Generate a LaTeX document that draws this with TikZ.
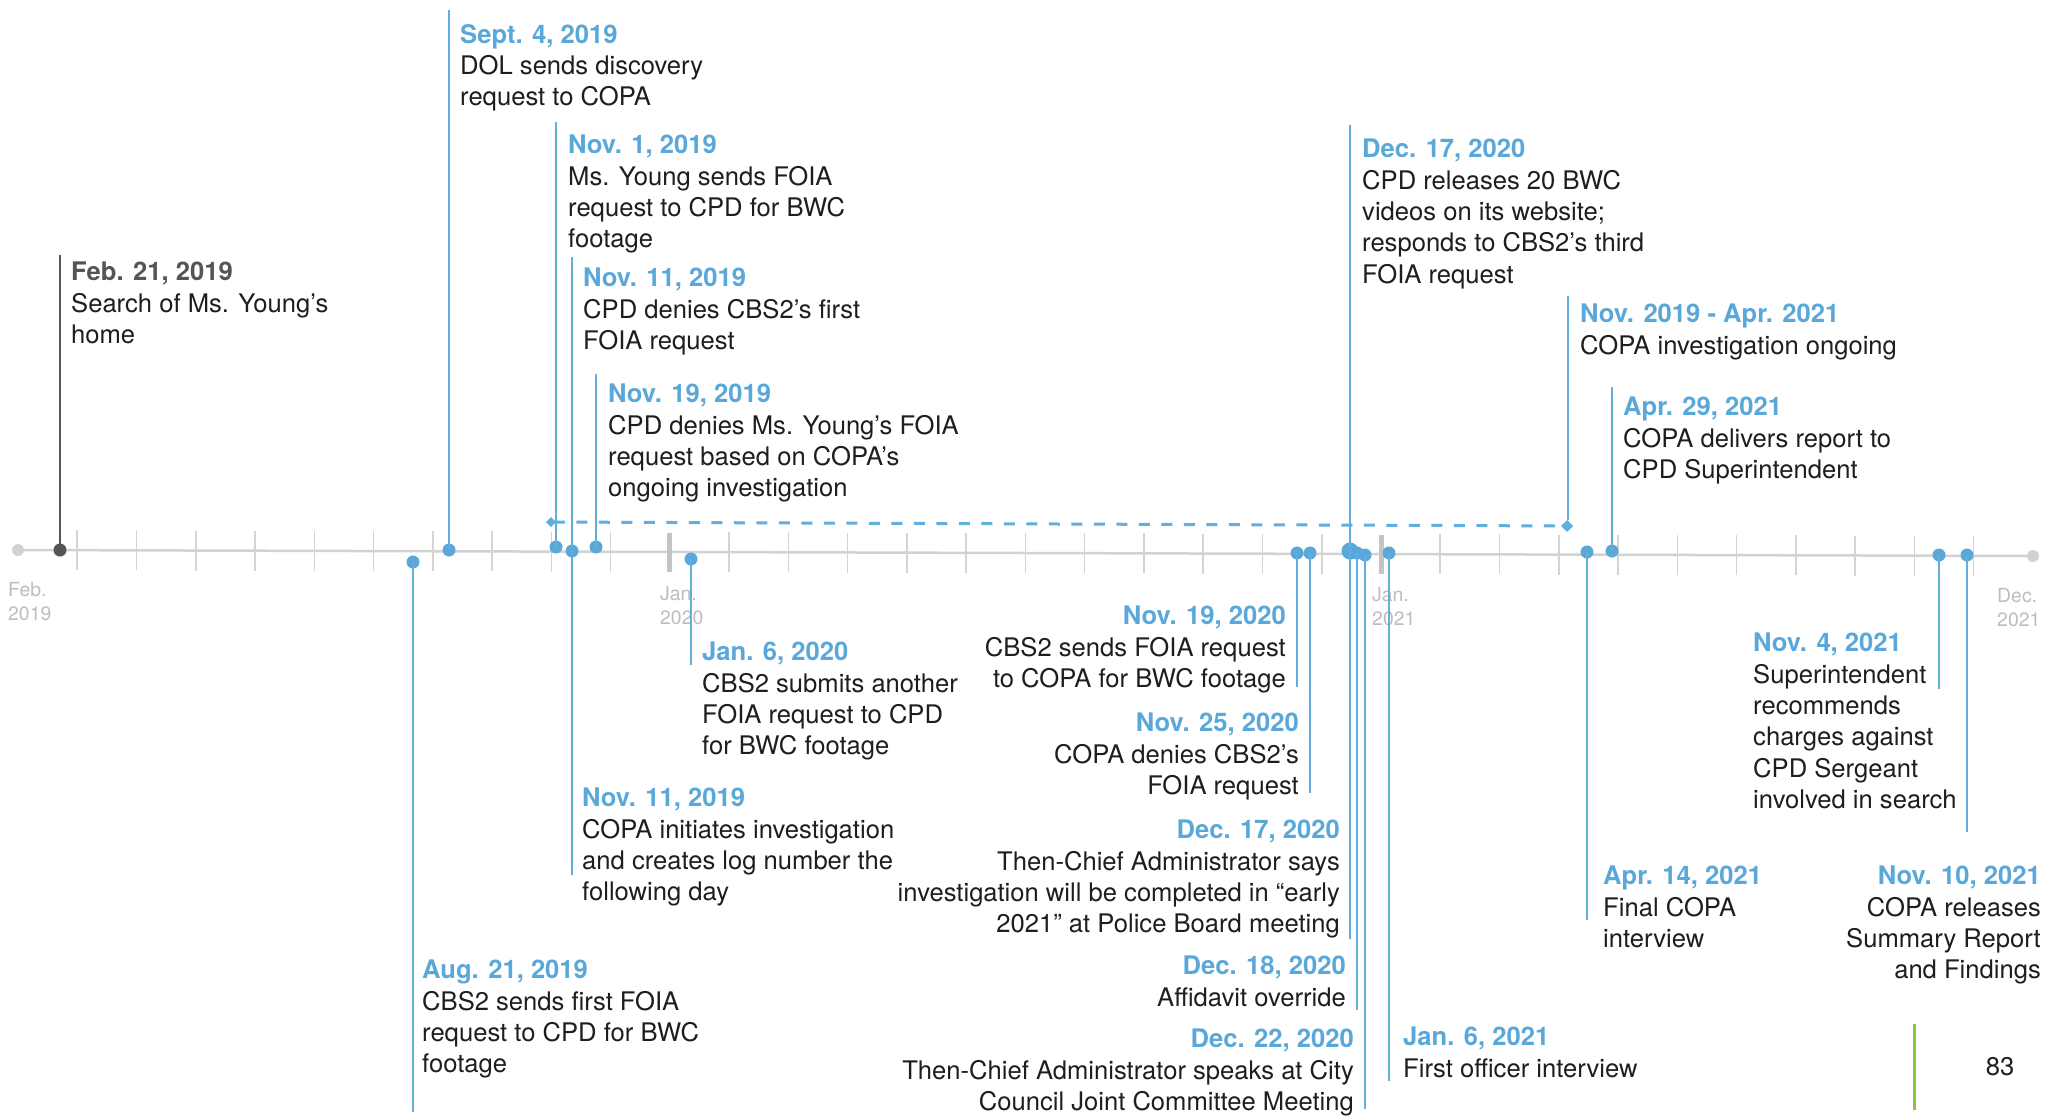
\documentclass[tikz,border=0pt]{standalone}
\usepackage{fontspec}
\setmainfont{TeX Gyre Heros}
\usetikzlibrary{arrows.meta}
\definecolor{evblue}{HTML}{5AA8DA}
\definecolor{lineblue}{HTML}{62AEDD}
\definecolor{darkev}{HTML}{555555}
\definecolor{axisgray}{HTML}{D2D2D2}
\definecolor{tickgray}{HTML}{D4D4D4}
\definecolor{thickgray}{HTML}{C4C4C4}
\definecolor{labgray}{HTML}{BDBDBD}
\definecolor{bodytxt}{HTML}{1E1E1E}
\definecolor{pagegreen}{HTML}{8CC63F}
\newcommand{\dt}[1]{{\bfseries\color{evblue}#1}}
\newcommand{\dtg}[1]{{\bfseries\color{darkev}#1}}
\begin{document}
\begin{tikzpicture}[x=1pt,y=-1pt,
  evl/.style={font=\fontsize{25.6}{31.3}\selectfont, inner sep=0pt, text=bodytxt, align=left, anchor=north west},
  evr/.style={font=\fontsize{25.6}{31.3}\selectfont, inner sep=0pt, text=bodytxt, align=right, anchor=north east},
  axl/.style={font=\fontsize{19.4}{24.5}\selectfont, inner sep=0pt, text=labgray, align=left, anchor=north west},
  dot/.style={circle, fill=evblue, minimum size=13pt, inner sep=0pt},
  bigdot/.style={circle, fill=evblue, minimum size=17pt, inner sep=0pt},
  enddot/.style={circle, fill=axisgray, minimum size=12pt, inner sep=0pt},
  lead/.style={draw=lineblue, line width=1.6pt},
  leadg/.style={draw=darkev, line width=1.6pt},
  axisline/.style={draw=axisgray, line width=2.5pt},
  thintick/.style={draw=tickgray, line width=1.6pt},
  thicktick/.style={draw=thickgray, line width=5pt},
  dashline/.style={draw=lineblue, line width=3pt, dash pattern=on 11pt off 11.5pt}
]
\fill[white] (0,0) rectangle (2049,1119);
\useasboundingbox (0,0) rectangle (2049,1119);

% axis
\coordinate (ax0) at (18,550);
\coordinate (ax1) at (2033,556);
\draw[axisline] (ax0) -- (ax1);
\foreach \m in {1,...,33}{
  \pgfmathsetmacro{\tx}{18+59.26*\m}
  \pgfmathsetmacro{\ty}{550+0.003*59.26*\m}
  \ifnum\m=11\relax
    \draw[thicktick] (\tx,\ty-19) -- (\tx,\ty+20);
  \else\ifnum\m=23\relax
    \draw[thicktick] (\tx,\ty-19) -- (\tx,\ty+20);
  \else
    \draw[thintick] (\tx,\ty-20) -- (\tx,\ty+20);
  \fi\fi
}
\node[enddot] (e0) at (ax0) {};
\node[enddot] (e1) at (ax1) {};

% axis labels
\node[axl] (lFeb) at (8,582) {Feb.\\2019};
\node[axl] (lJanA) at (660,586) {Jan.\\2020};
\node[axl] (lJanB) at (1372,587) {Jan.\\2021};
\node[axl] (lDec) at (1997,588) {Dec.\\2021};

% dashed investigation span
\coordinate (dl) at (546,522);
\coordinate (dr) at (1573,526);
\draw[dashline, {Diamond[length=10pt,width=10pt]}-{Diamond[length=12pt,width=12pt]}] (dl) -- (dr);

% dots
\node[dot, fill=darkev] (dA) at (60,550) {};
\node[dot] (dI) at (413,562) {};
\node[dot] (dB) at (449,550) {};
\node[dot] (dC) at (556,547) {};
\node[dot] (dD) at (572,551) {};
\node[dot] (dE) at (596,547) {};
\node[dot] (dJ) at (691,559) {};
\node[dot] (dL) at (1297,553) {};
\node[dot] (dM) at (1310,553) {};
\node[bigdot] (dF) at (1350,551) {};
\node[dot] (dO) at (1357,553) {};
\node[dot] (dP) at (1365,555) {};
\node[dot] (dQ) at (1389,553) {};
\node[dot] (dR) at (1587,552) {};
\node[dot] (dH) at (1612,551) {};
\node[dot] (dS) at (1939,555) {};
\node[dot] (dT) at (1967,555) {};

% line ends
\coordinate (tA) at (60,255);
\coordinate (tB) at (449,10);
\coordinate (tC) at (556,122);
\coordinate (tD) at (572,257);
\coordinate (bK) at (572,875);
\coordinate (tE) at (596,374);
\coordinate (bI) at (413,1112);
\coordinate (bJ) at (691,665);
\coordinate (bL) at (1297,687);
\coordinate (bM) at (1310,793);
\coordinate (tF) at (1350,125);
\coordinate (bN) at (1350,939);
\coordinate (bO) at (1357,1010);
\coordinate (bP) at (1365,1109);
\coordinate (bQ) at (1389,1081);
\coordinate (tG) at (1568,296);
\coordinate (gG) at (1568,520);
\coordinate (bR) at (1587,920);
\coordinate (tH) at (1612,387);
\coordinate (bS) at (1939,689);
\coordinate (bT) at (1967,832);

% leader lines
\draw[leadg] (tA) -- (dA.center);
\draw[lead] (tB) -- (dB.center);
\draw[lead] (tC) -- (dC.center);
\draw[lead] (tD) -- (dD.center);
\draw[lead] (dD.center) -- (bK);
\draw[lead] (tE) -- (dE.center);
\draw[lead] (dI.center) -- (bI);
\draw[lead] (dJ.center) -- (bJ);
\draw[lead] (dL.center) -- (bL);
\draw[lead] (dM.center) -- (bM);
\draw[lead] (tF) -- (dF.center);
\draw[lead] (dF.center) -- (bN);
\draw[lead] (dO.center) -- (bO);
\draw[lead] (dP.center) -- (bP);
\draw[lead] (dQ.center) -- (bQ);
\draw[lead] (tG) -- (gG);
\draw[lead] (dR.center) -- (bR);
\draw[lead] (tH) -- (dH.center);
\draw[lead] (dS.center) -- (bS);
\draw[lead] (dT.center) -- (bT);

% texts above
\node[evl] (xA) at (71,262) {\dtg{Feb. 21, 2019}\\Search of Ms. Young’s\\home};
\node[evl] (xB) at (460,24) {\dt{Sept. 4, 2019}\\DOL sends discovery\\request to COPA};
\node[evl] (xC) at (568,135) {\dt{Nov. 1, 2019}\\Ms. Young sends FOIA\\request to CPD for BWC\\footage};
\node[evl] (xD) at (583,268) {\dt{Nov. 11, 2019}\\CPD denies CBS2’s first\\FOIA request};
\node[evl] (xE) at (608,384) {\dt{Nov. 19, 2019}\\CPD denies Ms. Young’s FOIA\\request based on COPA’s\\ongoing investigation};
\node[evl] (xF) at (1362,139) {\dt{Dec. 17, 2020}\\CPD releases 20 BWC\\videos on its website;\\responds to CBS2’s third\\FOIA request};
\node[evl] (xG) at (1580,304) {\dt{Nov. 2019 - Apr. 2021}\\COPA investigation ongoing};
\node[evl] (xH) at (1623,397) {\dt{Apr. 29, 2021}\\COPA delivers report to\\CPD Superintendent};

% texts below
\node[evl] (xI) at (422,960) {\dt{Aug. 21, 2019}\\CBS2 sends first FOIA\\request to CPD for BWC\\footage};
\node[evl] (xJ) at (702,642) {\dt{Jan. 6, 2020}\\CBS2 submits another\\FOIA request to CPD\\for BWC footage};
\node[evl] (xK) at (582,788) {\dt{Nov. 11, 2019}\\COPA initiates investigation\\and creates log number the\\following day};
\node[evr] (xL) at (1286,606) {\dt{Nov. 19, 2020}\\CBS2 sends FOIA request\\to COPA for BWC footage};
\node[evr] (xM) at (1299,713) {\dt{Nov. 25, 2020}\\COPA denies CBS2’s\\FOIA request};
\node[evr] (xN) at (1340,820) {\dt{Dec. 17, 2020}\\Then-Chief Administrator says\\investigation will be completed in “early\\2021” at Police Board meeting};
\node[evr] (xO) at (1346,956) {\dt{Dec. 18, 2020}\\Affidavit override};
\node[evr] (xP) at (1354,1029) {\dt{Dec. 22, 2020}\\Then-Chief Administrator speaks at City\\Council Joint Committee Meeting};
\node[evl] (xQ) at (1403,1027) {\dt{Jan. 6, 2021}\\First officer interview};
\node[evl] (xR) at (1603,866) {\dt{Apr. 14, 2021}\\Final COPA\\interview};
\node[evl] (xS) at (1753,633) {\dt{Nov. 4, 2021}\\Superintendent\\recommends\\charges against\\CPD Sergeant\\involved in search};
\node[evr] (xT) at (2041,866) {\dt{Nov. 10, 2021}\\COPA releases\\Summary Report\\and Findings};

% page number
\coordinate (g1) at (1914,1024);
\coordinate (g2) at (1914,1110);
\draw[draw=pagegreen, line width=3pt] (g1) -- (g2);
\node[font=\fontsize{25.6}{31.3}\selectfont, inner sep=0pt, text=bodytxt] (pg) at (2000,1067) {83};
\end{tikzpicture}
\end{document}
